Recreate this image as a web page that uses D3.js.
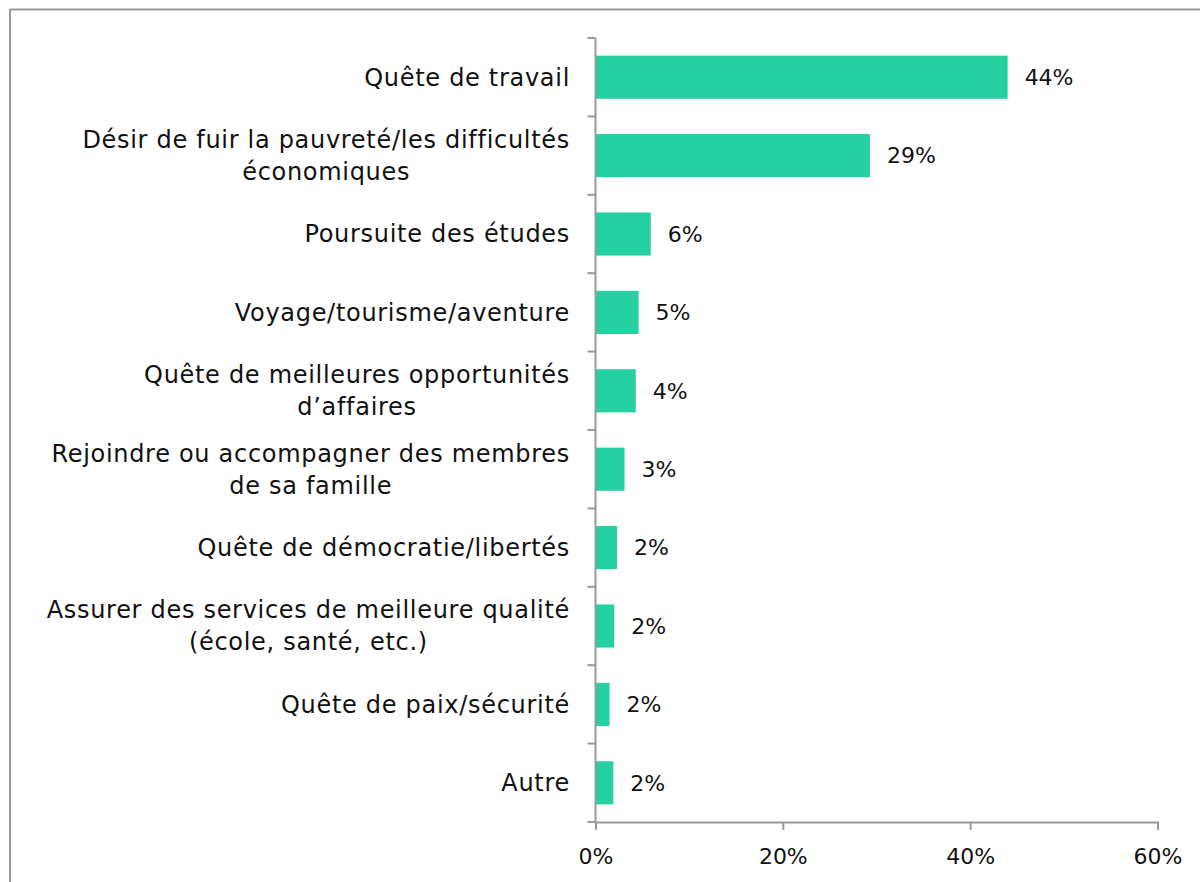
<!DOCTYPE html>
<html>
<head>
<meta charset="utf-8">
<script src="https://cdn.jsdelivr.net/npm/d3@7"></script>
<style>
  body { margin: 0; background: #fff; }
  svg { display: block; }
  .lbl { font-family: "DejaVu Sans", sans-serif; font-size: 22px; fill: #111; }
  .cat { font-size: 24px; letter-spacing: 0.7px; }
</style>
</head>
<body>
<div id="chart"></div>
<script>
var categories = [
  ["Quête de travail"],
  ["Désir de fuir la pauvreté/les difficultés", "économiques"],
  ["Poursuite des études"],
  ["Voyage/tourisme/aventure"],
  ["Quête de meilleures opportunités", "d’affaires"],
  ["Rejoindre ou accompagner des membres", "de sa famille"],
  ["Quête de démocratie/libertés"],
  ["Assurer des services de meilleure qualité", "(école, santé, etc.)"],
  ["Quête de paix/sécurité"],
  ["Autre"]
];
var values = [44, 29.3, 5.9, 4.6, 4.3, 3.1, 2.3, 2.0, 1.5, 1.9];
var valueLabels = ["44%", "29%", "6%", "5%", "4%", "3%", "2%", "2%", "2%", "2%"];
var xTicks = [0, 20, 40, 60];

var width = 1200, height = 882;
var svg = d3.select("#chart").append("svg")
  .attr("width", width)
  .attr("height", height);

// outer frame (top + left only)
svg.append("line").attr("x1", 10).attr("y1", 9.5).attr("x2", width).attr("y2", 9.5)
  .attr("stroke", "#999").attr("stroke-width", 2);
svg.append("line").attr("x1", 10).attr("y1", 9).attr("x2", 10).attr("y2", height)
  .attr("stroke", "#999").attr("stroke-width", 2);

var x = d3.scaleLinear().domain([0, 60]).range([595.5, 1157.5]);
var y = d3.scaleBand().domain(d3.range(categories.length)).range([38, 822]).paddingInner(0.45).paddingOuter(0.225);

var g = svg.append("g");

g.selectAll("rect.bar")
  .data(values)
  .enter().append("rect")
  .attr("class", "bar")
  .attr("x", x(0))
  .attr("y", function(d, i) { return y(i); })
  .attr("width", function(d) { return x(d) - x(0); })
  .attr("height", y.bandwidth())
  .attr("fill", "#25d1a1");

// y axis line and ticks between categories
var step = y.step();
g.append("line").attr("x1", x(0)).attr("x2", x(0)).attr("y1", 38).attr("y2", 822)
  .attr("stroke", "#999").attr("stroke-width", 2);
for (var i = 0; i <= categories.length; i++) {
  g.append("line")
    .attr("x1", x(0) - 8).attr("x2", x(0))
    .attr("y1", 38 + i * step).attr("y2", 38 + i * step)
    .attr("stroke", "#999").attr("stroke-width", 2);
}

// x axis
var xAxis = d3.axisBottom(x).tickValues(xTicks).tickFormat(function(d) { return d + "%"; })
  .tickSize(8).tickPadding(18);
var xa = g.append("g").attr("transform", "translate(0,822)").call(xAxis);
xa.select(".domain").attr("stroke", "#999").attr("stroke-width", 2);
xa.selectAll(".tick line").attr("stroke", "#999").attr("stroke-width", 2);
xa.selectAll(".tick text").attr("class", "lbl").attr("fill", "#111")
  .style("font-family", "\"DejaVu Sans\", sans-serif").style("font-size", "22px");

// category labels
var lineH = 32;
categories.forEach(function(lines, i) {
  var cy = y(i) + y.bandwidth() / 2;
  var t = g.append("text").attr("class", "lbl cat");
  if (lines.length === 1) {
    t.attr("text-anchor", "end").attr("x", 570).attr("y", cy).attr("dy", "0.35em").text(lines[0]);
  } else {
    var tmp = [];
    lines.forEach(function(l, k) {
      tmp.push(t.append("tspan").text(l));
    });
    var maxW = d3.max(tmp, function(s) { return s.node().getComputedTextLength(); });
    t.attr("text-anchor", "middle");
    tmp.forEach(function(s, k) {
      s.attr("x", 570 - maxW / 2)
       .attr("y", cy + (k - (lines.length - 1) / 2) * lineH)
       .attr("dy", "0.35em");
    });
  }
});

// value labels
g.selectAll("text.val")
  .data(values)
  .enter().append("text")
  .attr("class", "lbl val")
  .attr("x", function(d) { return x(d) + 17; })
  .attr("y", function(d, i) { return y(i) + y.bandwidth() / 2; })
  .attr("dy", "0.35em")
  .text(function(d, i) { return valueLabels[i]; });
</script>
</body>
</html>
